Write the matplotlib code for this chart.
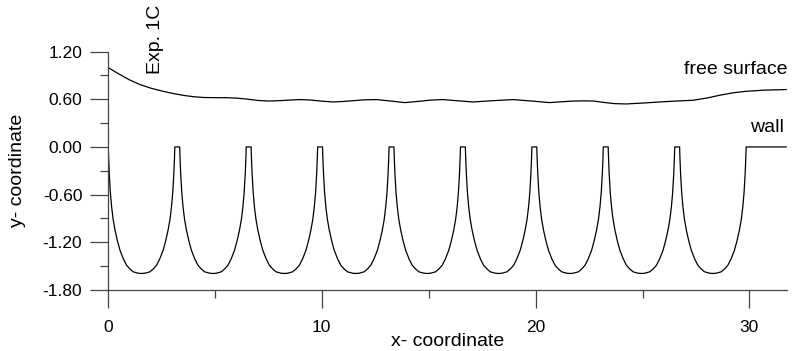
import numpy as np
import matplotlib
matplotlib.use("Agg")
import matplotlib.pyplot as plt
from matplotlib.ticker import MultipleLocator, FormatStrFormatter

plt.rcParams['font.family'] = ['Liberation Sans', 'DejaVu Sans']

# free surface
surf_x = [0.0, 0.5, 1.0, 1.5, 2.0, 2.5, 3.0, 3.5, 4.0, 4.5, 5.0, 5.5, 6.0, 6.5, 7.0, 7.5,
          8.0, 8.5, 9.0, 9.5, 10.0, 10.5, 11.0, 11.5, 12.0, 12.56, 13.2, 13.88, 14.5,
          15.1, 15.67, 16.4, 17.07, 18.0, 18.94, 19.8, 20.65, 21.6, 22.2, 22.7, 23.2,
          23.7, 24.24, 25.0, 25.8, 26.6, 27.35, 28.0, 28.6, 29.2, 29.84, 30.7, 31.72]
surf_y = [1.0, 0.92, 0.845, 0.785, 0.74, 0.705, 0.675, 0.65, 0.632, 0.622, 0.62, 0.62,
          0.615, 0.602, 0.585, 0.578, 0.582, 0.59, 0.596, 0.59, 0.576, 0.566, 0.572,
          0.583, 0.593, 0.596, 0.578, 0.558, 0.573, 0.59, 0.596, 0.58, 0.566, 0.582,
          0.596, 0.578, 0.558, 0.575, 0.58, 0.578, 0.56, 0.545, 0.541, 0.552, 0.566,
          0.578, 0.587, 0.615, 0.65, 0.68, 0.70, 0.715, 0.722]

# one scallop of the wall, offsets from its lowest point
scallop_dx = [-1.556, -1.54, -1.51, -1.46, -1.40, -1.33, -1.24, -1.13, -1.01, -0.85, -0.70,
              -0.55, -0.39, -0.15, 0.0, 0.15, 0.39, 0.55, 0.70, 0.85, 1.01, 1.13, 1.24,
              1.33, 1.40, 1.46, 1.51, 1.54, 1.556]
scallop_y = [0.0, -0.14, -0.335, -0.57, -0.755, -0.91, -1.048, -1.18, -1.30, -1.41, -1.49,
             -1.535, -1.572, -1.590, -1.593, -1.590, -1.572, -1.535, -1.49, -1.41, -1.30,
             -1.18, -1.048, -0.91, -0.755, -0.57, -0.335, -0.14, 0.0]
# lowest points of the scallops
scallop_mid = [1.57, 4.91, 8.25, 11.59, 14.93, 18.27, 21.61, 24.95, 28.29]
wall_end = 31.72

wx, wy = [], []
for m in scallop_mid:
    for dx, y in zip(scallop_dx, scallop_y):
        if m + dx >= 0:
            wx.append(m + dx)
            wy.append(y)
wx = [0.0] + wx + [wall_end]
wy = [-0.25] + wy + [0.0]

fig = plt.figure(figsize=(7.94, 3.51), dpi=100)
ax = fig.add_axes([0.136, 0.174, 0.855, 0.679])

ax.plot(surf_x, surf_y, color='black', lw=0.9)
ax.plot(wx, wy, color='black', lw=0.9)

ax.set_xlim(0, 31.75)
ax.set_ylim(-1.8, 1.2)
ax.spines['top'].set_visible(False)
ax.spines['right'].set_visible(False)
for s in ('left', 'bottom'):
    ax.spines[s].set_color('#444444')
    ax.spines[s].set_linewidth(0.9)

ax.xaxis.set_major_locator(MultipleLocator(10))
ax.xaxis.set_minor_locator(MultipleLocator(5))
ax.yaxis.set_major_locator(MultipleLocator(0.6))
ax.yaxis.set_minor_locator(MultipleLocator(0.3))
ax.yaxis.set_major_formatter(FormatStrFormatter('%.2f'))
ax.tick_params(which='major', direction='out', length=13, width=0.9, color='#444444',
               labelsize=12.5)
ax.tick_params(which='minor', direction='out', length=6, width=0.9, color='#444444')
ax.tick_params(axis='x', which='major', pad=9)
ax.tick_params(axis='y', which='major', pad=5.5)

ax.set_xlabel('x- coordinate', fontsize=14)
ax.xaxis.set_label_coords(0.5, -0.235)
ax.xaxis.label.set_va('baseline')
ax.set_ylabel('y- coordinate', fontsize=14)
ax.yaxis.set_label_coords(-0.133, 0.5)
ax.yaxis.label.set_va('center')

ax.text(2.2, 0.92, 'Exp. 1C', rotation=90, ha='center', va='bottom', fontsize=14,
        clip_on=False)
ax.text(31.78, 0.977, 'free surface', ha='right', va='center', fontsize=14, clip_on=False)
ax.text(31.6, 0.25, 'wall', ha='right', va='center', fontsize=14, clip_on=False)

fig.savefig('out.png', dpi=100)
